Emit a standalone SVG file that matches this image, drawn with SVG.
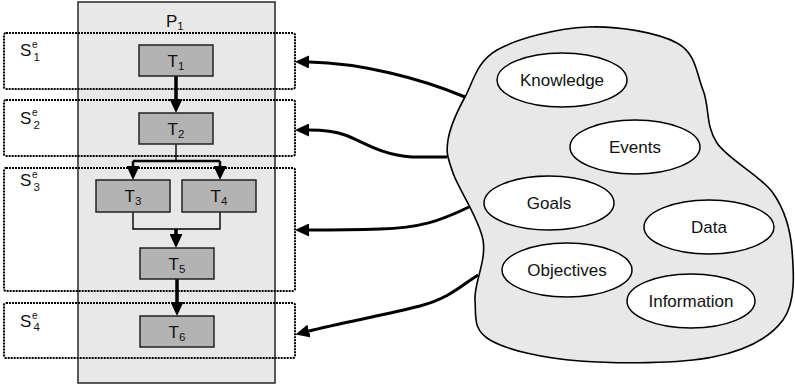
<svg xmlns="http://www.w3.org/2000/svg" width="795" height="385" viewBox="0 0 795 385">
  <style>
    text { font-family: "Liberation Sans", Arial, sans-serif; font-size: 17px; fill: #111; }
    .sub { font-size: 11.5px; }
    .sup { font-size: 10px; }
    .proc { fill: #e8e8e8; stroke: #333; stroke-width: 1.6; }
    .task { fill: #b3b3b3; stroke: #222; stroke-width: 1.5; }
    .stage { fill: none; stroke: #000; stroke-width: 2; stroke-dasharray: 2 1; }
    .blob { fill: #e8e8e8; stroke: #000; stroke-width: 1.6; }
    .item { fill: #fff; stroke: #000; stroke-width: 1.5; }
    .thick { fill: none; stroke: #000; stroke-width: 3.5; }
    .mid { fill: none; stroke: #000; stroke-width: 2.5; }
    .thin { fill: none; stroke: #000; stroke-width: 1.4; }
    .feed { fill: none; stroke: #000; stroke-width: 3; }
  </style>
  <defs>
    <marker id="arr" markerUnits="userSpaceOnUse" viewBox="0 0 14 13" markerWidth="14" markerHeight="13" refX="0" refY="6.5" orient="auto">
      <path d="M0,0 L14,6.5 L0,13 z" fill="#000"/>
    </marker>
  </defs>

  <!-- process P1 -->
  <g id="process-p1">
    <rect class="proc" x="78" y="2" width="197" height="381"/>
    <text x="166" y="27">P<tspan class="sub" dy="3">1</tspan></text>
  </g>

  <!-- internal flow between tasks -->
  <g id="task-flow">
    <path class="thick" d="M176,76 V99" marker-end="url(#arr)"/>
    <path class="thin" d="M176,144 V161"/>
    <path class="mid" d="M133,161 H220"/>
    <path class="mid" d="M133,161 V166" marker-end="url(#arr)"/>
    <path class="mid" d="M220,161 V166" marker-end="url(#arr)"/>
    <path class="thin" d="M133,212 V229 H220 V212"/>
    <path class="thick" d="M176,229 V234" marker-end="url(#arr)"/>
    <path class="thick" d="M177,279 V302" marker-end="url(#arr)"/>
  </g>

  <g id="t1"><rect class="task" x="139" y="45" width="74" height="31"/><text x="176" y="66.5" text-anchor="middle">T<tspan class="sub" dy="3">1</tspan></text></g>
  <g id="t2"><rect class="task" x="139" y="113" width="74" height="31"/><text x="176" y="134.5" text-anchor="middle">T<tspan class="sub" dy="3">2</tspan></text></g>
  <g id="t3"><rect class="task" x="96" y="180" width="74" height="32"/><text x="133" y="202" text-anchor="middle">T<tspan class="sub" dy="3">3</tspan></text></g>
  <g id="t4"><rect class="task" x="182" y="180" width="74" height="32"/><text x="219" y="202" text-anchor="middle">T<tspan class="sub" dy="3">4</tspan></text></g>
  <g id="t5"><rect class="task" x="140" y="248" width="74" height="31"/><text x="177" y="269.5" text-anchor="middle">T<tspan class="sub" dy="3">5</tspan></text></g>
  <g id="t6"><rect class="task" x="140" y="316" width="74" height="31"/><text x="177" y="337.5" text-anchor="middle">T<tspan class="sub" dy="3">6</tspan></text></g>

  <!-- stages -->
  <g id="stage-1">
    <rect class="stage" x="4" y="33" width="291" height="56" rx="2"/>
    <text x="20" y="56">S</text><text class="sup" x="32" y="48">e</text><text class="sub" x="33.5" y="60.5">1</text>
  </g>
  <g id="stage-2">
    <rect class="stage" x="4" y="100" width="291" height="56" rx="2"/>
    <text x="20" y="124">S</text><text class="sup" x="32" y="116">e</text><text class="sub" x="33.5" y="128.5">2</text>
  </g>
  <g id="stage-3">
    <rect class="stage" x="4" y="168" width="291" height="123" rx="2"/>
    <text x="20" y="186">S</text><text class="sup" x="32" y="178">e</text><text class="sub" x="33.5" y="190.5">3</text>
  </g>
  <g id="stage-4">
    <rect class="stage" x="4" y="303" width="291" height="55" rx="2"/>
    <text x="20" y="326.5">S</text><text class="sup" x="32" y="318.5">e</text><text class="sub" x="33.5" y="331">4</text>
  </g>

  <!-- environment cloud -->
  <g id="environment">
    <path class="blob" d="M588,27 C618,25.8 657.8,32.5 677,43 C696.2,53.5 696.3,73.3 703,90 C709.7,106.7 705.3,125.8 717,143 C728.7,160.2 760.5,175.2 773,193 C785.5,210.8 790.3,228.8 792,250 C793.7,271.2 796.2,302.2 783,320 C769.8,337.8 746.8,350.2 713,357 C679.2,363.8 617.2,363.8 580,361 C542.8,358.2 507.5,350.2 490,340 C472.5,329.8 476.2,316.7 475,300 C473.8,283.3 486.7,261.2 483,240 C479.3,218.8 458.8,189.7 453,173 C447.2,156.3 446,152.7 448,140 C450,127.3 456.8,112 465,97 C473.2,82 476.5,61.7 497,50 C517.5,38.3 558,28.2 588,27 Z"/>
  </g>
  <g id="knowledge"><ellipse class="item" cx="562" cy="80" rx="65" ry="27"/><text x="562" y="86" text-anchor="middle">Knowledge</text></g>
  <g id="events"><ellipse class="item" cx="635" cy="147" rx="65" ry="27"/><text x="635" y="153" text-anchor="middle">Events</text></g>
  <g id="goals"><ellipse class="item" cx="549" cy="203" rx="65" ry="27"/><text x="549" y="209" text-anchor="middle">Goals</text></g>
  <g id="data"><ellipse class="item" cx="709" cy="227" rx="65" ry="27"/><text x="709" y="233" text-anchor="middle">Data</text></g>
  <g id="objectives"><ellipse class="item" cx="567" cy="270" rx="65" ry="27"/><text x="567" y="276" text-anchor="middle">Objectives</text></g>
  <g id="information"><ellipse class="item" cx="691" cy="301" rx="64" ry="27"/><text x="691" y="307" text-anchor="middle">Information</text></g>

  <!-- environment feeds into stages -->
  <g id="feeds">
    <path class="feed" d="M465,97 C420,78 360,63 309,62" marker-end="url(#arr)"/>
    <path class="feed" d="M447,157 L412,157 C380,155 362,141 345,135 C334,131 324,130 309,130" marker-end="url(#arr)"/>
    <path class="feed" d="M469,207 C440,221 420,228 380,229 C350,230 330,230 309,230" marker-end="url(#arr)"/>
    <path class="feed" d="M478,275 C462,285 450,298 420,306 C390,314 340,323 309,331" marker-end="url(#arr)"/>
  </g>
</svg>
